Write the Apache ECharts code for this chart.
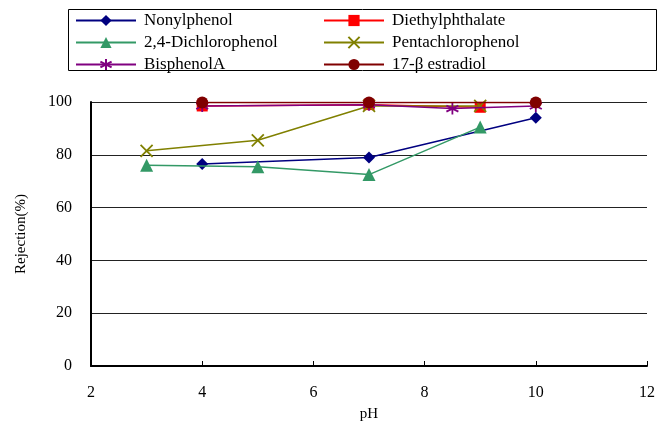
<!DOCTYPE html>
<html><head><meta charset="utf-8">
<script src="https://cdn.jsdelivr.net/npm/echarts@6/dist/echarts.min.js"></script>
<style>html,body{margin:0;padding:0;background:#fff}#c{width:658px;height:423px}</style>
</head><body><div id="c"></div>
<script>
const names = ['Nonylphenol','Diethylphthalate','2,4-Dichlorophenol','Pentachlorophenol','BisphenolA','17-\u03b2 estradiol'];
const nonylphenol = [[4,76.5],[7,79],[10,94]];
const diethylphthalate = [[4,98.5],[7,99],[9,98]];
const dichlorophenol = [[3,76],[5,75.5],[7,72.5],[9,90.5]];
const pentachlorophenol = [[3,81.5],[5,85.5],[7,98.5],[9,98.5]];
const bisphenolA = [[4,98.5],[7,99],[8.5,97.5],[10,98.5]];
const estradiol = [[4,99.8],[7,99.8],[10,99.8]];
const colors = ['#000080','#ff0000','#339966','#808000','#800080','#800000'];
const crossPath = 'path://M0,0L10,10M10,0L0,10';
const starPath = 'path://M5,0L5,10M0,2.5L10,7.5M0,7.5L10,2.5';
const symbols = ['diamond','rect','triangle',crossPath,starPath,'circle'];
const sizes = [12,11,13,12,12,12];
const datasets = [nonylphenol,diethylphthalate,dichlorophenol,pentachlorophenol,bisphenolA,estradiol];
const font = '"Liberation Serif","DejaVu Serif",serif';

const series = names.map((n,i)=>{
  const stroke = (i===3||i===4);
  return {
    name:n, type:'line', data:datasets[i], symbol:symbols[i], symbolSize:sizes[i],
    lineStyle:{color:colors[i],width:1.5},
    itemStyle: stroke ? {color:'none',borderColor:colors[i],borderWidth:1.8} : {color:colors[i],borderWidth:0},
    z: 2+i
  };
});

const legendText = {fontFamily:font,fontSize:17,color:'#000',padding:[0,0,0,3]};
const chart = echarts.init(document.getElementById('c'));
chart.setOption({
  animation:false,
  color:colors,
  grid:{left:91,right:11,top:102,bottom:57,containLabel:false,outerBoundsMode:'none'},
  legend:[
    {data:[names[0],names[2],names[4]],orient:'vertical',left:75,top:12,itemWidth:60,itemHeight:14,itemGap:5,textStyle:legendText,padding:0},
    {data:[names[1],names[3],names[5]],orient:'vertical',left:323,top:12,itemWidth:60,itemHeight:14,itemGap:5,textStyle:legendText,padding:0}
  ],
  graphic:[{type:'rect',shape:{x:68.5,y:9.5,width:588,height:61},style:{fill:'none',stroke:'#000',lineWidth:1}}],
  xAxis:{type:'value',min:2,max:12,interval:2,name:'pH',nameLocation:'middle',nameGap:41,
    nameTextStyle:{fontFamily:font,fontSize:15,color:'#000'},
    axisLine:{show:true,lineStyle:{color:'#000',width:2}},
    axisTick:{show:true,inside:true,length:5,lineStyle:{color:'#000'}},
    axisLabel:{fontFamily:font,fontSize:16,color:'#000',margin:19},
    splitLine:{show:false}},
  yAxis:{type:'value',min:0,max:100,interval:20,name:'Rejection(%)',nameLocation:'middle',nameGap:62,nameRotate:90,
    nameTextStyle:{fontFamily:font,fontSize:15,color:'#000'},
    axisLine:{show:true,lineStyle:{color:'#000',width:2}},
    axisTick:{show:false},
    axisLabel:{fontFamily:font,fontSize:16,color:'#000',margin:19},
    splitLine:{show:true,lineStyle:{color:'#222',width:1}}},
  series:series
});
</script></body></html>
